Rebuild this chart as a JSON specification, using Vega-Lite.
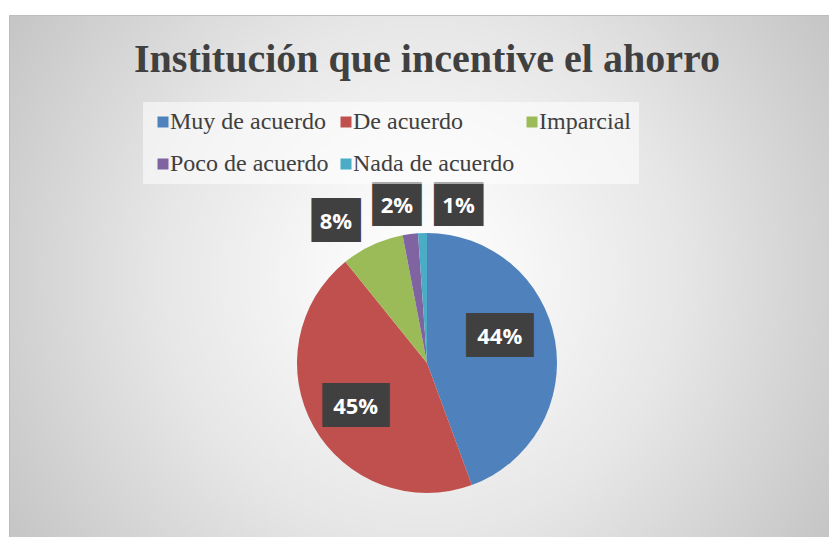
{
  "$schema": "https://vega.github.io/schema/vega-lite/v6.json",
  "width": 829,
  "height": 537,
  "autosize": {"type": "fit", "contains": "padding"},
  "padding": {"left": 9, "top": 15, "right": 0, "bottom": 0},
  "background": "#ffffff",
  "view": {
    "style": "cell",
    "stroke": "#bdbdbd",
    "strokeWidth": 1,
    "fill": {
      "gradient": "radial",
      "x1": 0.5, "y1": 0.5, "r1": 0,
      "x2": 0.5, "y2": 0.5, "r2": 0.6,
      "stops": [
        {"offset": 0, "color": "#ffffff"},
        {"offset": 0.2, "color": "#f7f7f7"},
        {"offset": 0.53, "color": "#e6e6e6"},
        {"offset": 0.833, "color": "#d0d0d0"},
        {"offset": 1, "color": "#c4c4c4"}
      ]
    }
  },
  "title": {
    "text": "Institución que incentive el ahorro",
    "font": "Liberation Serif",
    "fontSize": 40,
    "fontWeight": "bold",
    "color": "#404040",
    "anchor": "middle",
    "frame": "group",
    "dx": 8,
    "offset": 0,
    "dy": 97,
    "baseline": "alphabetic"
  },
  "data": {
    "values": [
      {"categoria": "Muy de acuerdo", "porcentaje": 44.4, "orden": 1},
      {"categoria": "De acuerdo", "porcentaje": 44.8, "orden": 2},
      {"categoria": "Imparcial", "porcentaje": 7.8, "orden": 3},
      {"categoria": "Poco de acuerdo", "porcentaje": 1.9, "orden": 4},
      {"categoria": "Nada de acuerdo", "porcentaje": 1.1, "orden": 5}
    ]
  },
  "transform": [
    {"calculate": "round(datum.porcentaje) + '%'", "as": "etiqueta"},
    {"calculate": "datum.porcentaje >= 9.5 ? '███' : '▕██▏'", "as": "caja"}
  ],
  "encoding": {
    "theta": {"field": "porcentaje", "type": "quantitative", "stack": true},
    "order": {"field": "orden", "type": "quantitative"}
  },
  "layer": [
    {
      "mark": {"type": "arc", "radius": 130, "xOffset": 8, "yOffset": 87},
      "encoding": {
        "color": {
          "field": "categoria",
          "type": "nominal",
          "scale": {
            "domain": ["Muy de acuerdo", "De acuerdo", "Imparcial", "Poco de acuerdo", "Nada de acuerdo"],
            "range": ["#4F81BD", "#C0504D", "#9BBB59", "#8064A2", "#4BACC6"]
          },
          "legend": {
            "orient": "none",
            "legendX": 134,
            "legendY": 87,
            "direction": "horizontal",
            "columns": 3,
            "title": null,
            "symbolType": "square",
            "symbolSize": 121,
            "symbolStrokeWidth": 0,
            "labelFont": "Liberation Serif",
            "labelFontSize": 24,
            "labelColor": "#404040",
            "labelOffset": -5,
            "labelLimit": 400,
            "columnPadding": 5,
            "rowPadding": 18,
            "padding": 8,
            "fillColor": "rgba(255,255,255,0.55)"
          }
        }
      }
    },
    {
      "mark": {
        "type": "text",
        "font": "DejaVu Sans Mono",
        "fontSize": 37,
        "color": "#404040",
        "align": "center",
        "baseline": "middle",
        "xOffset": 8,
        "yOffset": 87,
        "radius": {"expr": "datum.porcentaje > 20 ? 82 : datum.porcentaje > 5 ? 162 : 157"},
        "dx": {"expr": "datum.categoria == 'Muy de acuerdo' ? -8 : datum.categoria == 'Imparcial' ? -23 : datum.categoria == 'Poco de acuerdo' ? -10 : datum.categoria == 'Nada de acuerdo' ? 37 : 0"},
        "dy": {"expr": "datum.categoria == 'Muy de acuerdo' ? -12 : datum.categoria == 'De acuerdo' ? 4 : datum.categoria == 'Imparcial' ? 6 : datum.categoria == 'Poco de acuerdo' ? -1 : 0"}
      },
      "encoding": {"text": {"field": "caja", "type": "nominal"}}
    },
    {
      "mark": {
        "type": "text",
        "font": "Open Sans",
        "fontSize": 22,
        "fontWeight": "bold",
        "color": "#ffffff",
        "align": "center",
        "baseline": "middle",
        "xOffset": 8,
        "yOffset": 87,
        "radius": {"expr": "datum.porcentaje > 20 ? 82 : datum.porcentaje > 5 ? 162 : 157"},
        "dx": {"expr": "datum.categoria == 'Muy de acuerdo' ? -8 : datum.categoria == 'Imparcial' ? -23 : datum.categoria == 'Poco de acuerdo' ? -10 : datum.categoria == 'Nada de acuerdo' ? 37 : 0"},
        "dy": {"expr": "datum.categoria == 'Muy de acuerdo' ? -12 : datum.categoria == 'De acuerdo' ? 4 : datum.categoria == 'Imparcial' ? 6 : datum.categoria == 'Poco de acuerdo' ? -1 : 0"}
      },
      "encoding": {"text": {"field": "etiqueta", "type": "nominal"}}
    }
  ]
}
